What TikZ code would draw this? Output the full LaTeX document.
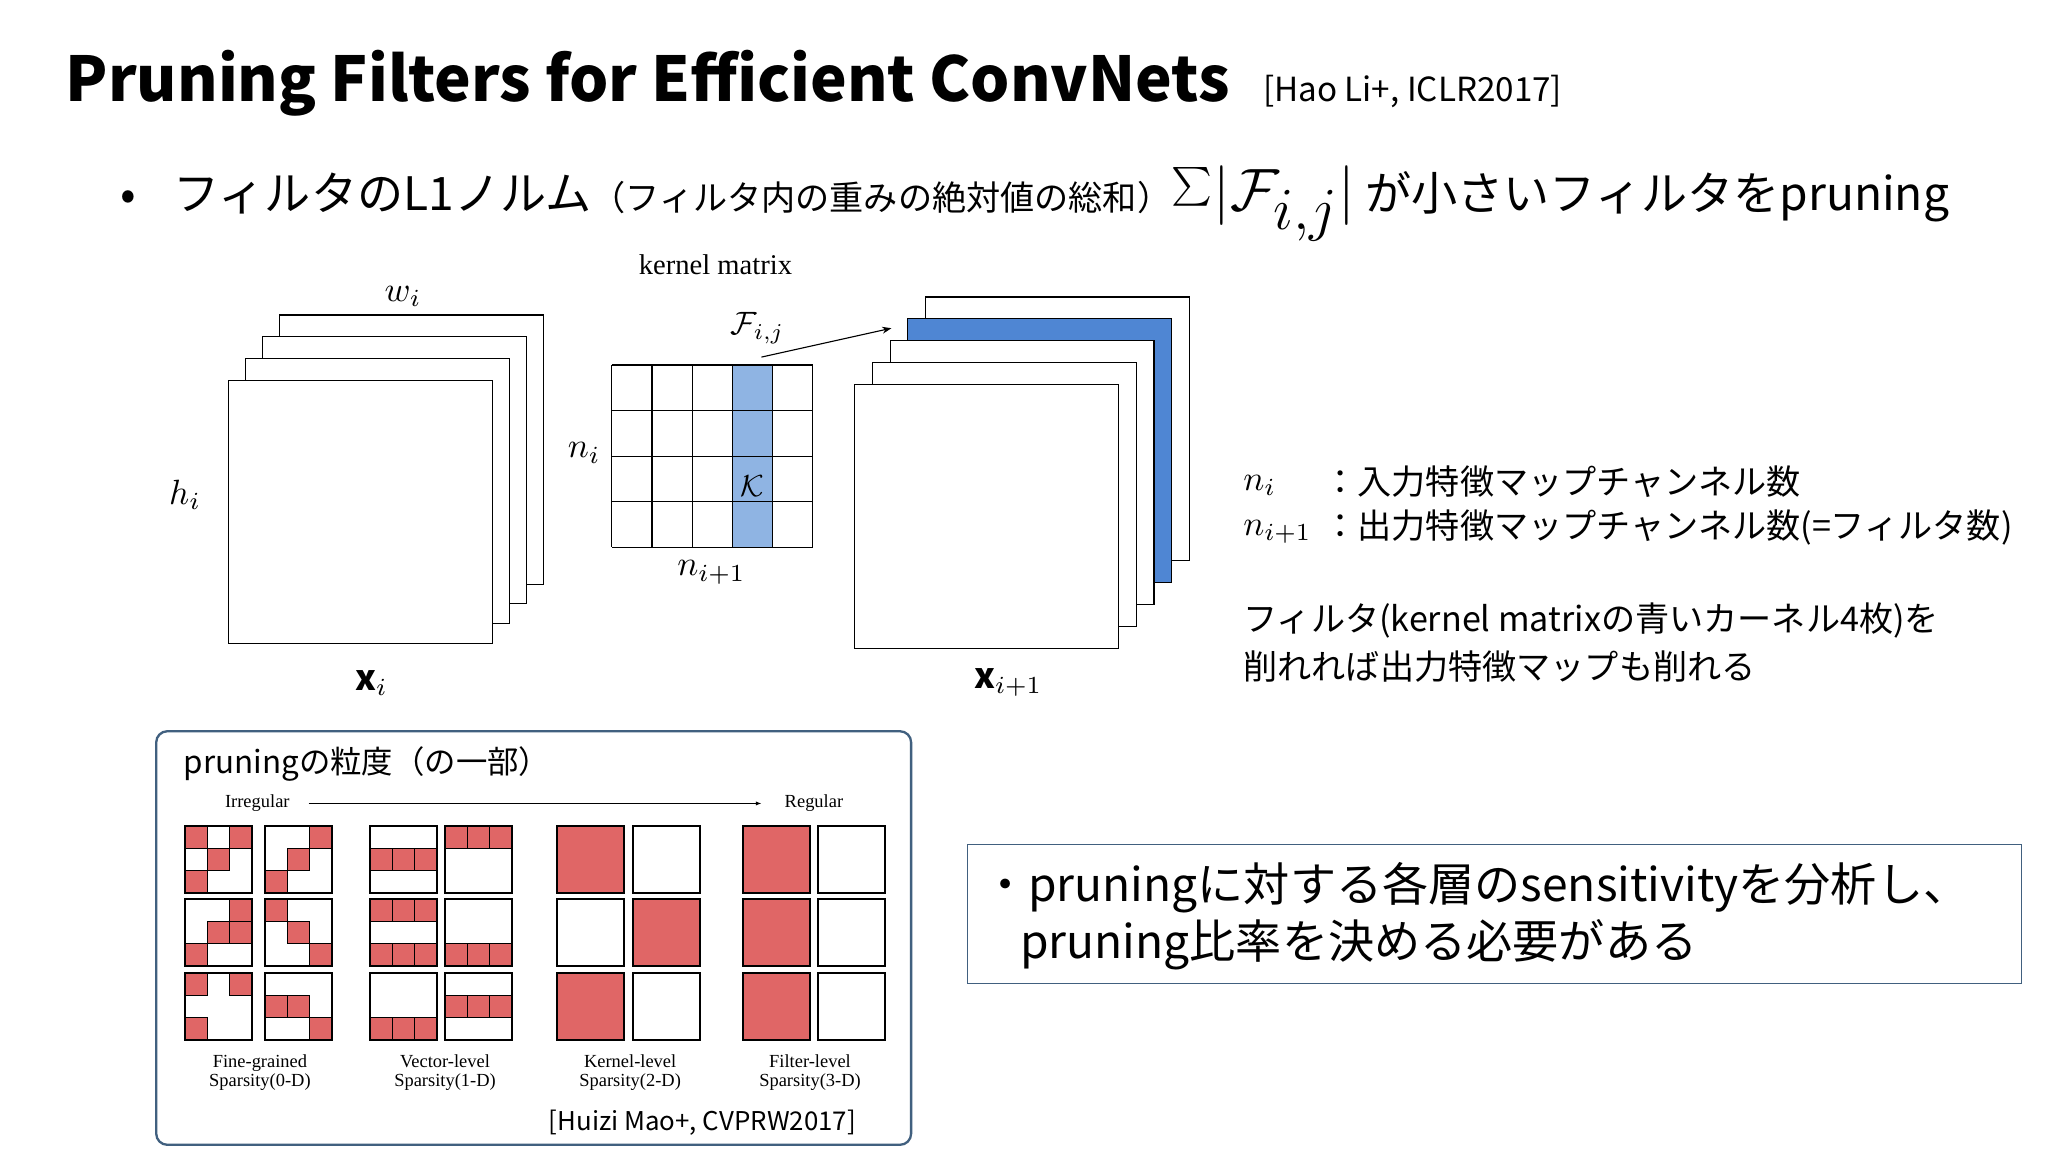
\documentclass[tikz,border=0pt]{standalone}
\usepackage{graphicx}
\usepackage{fontspec}
\setmainfont{Noto Sans CJK JP}
\newfontfamily\tms{Liberation Serif}
\usetikzlibrary{arrows.meta}
\definecolor{red1}{HTML}{E06666}
\definecolor{blu1}{HTML}{4F86D3}
\definecolor{blu2}{HTML}{8FB4E3}
\definecolor{frm}{HTML}{41607F}
\newcommand{\fs}[1]{\fontsize{#1}{#1}\selectfont}
\newcommand{\mth}[2]{\scalebox{#1}{$#2$}}
\begin{document}
\begin{tikzpicture}[x=0.05cm,y=-0.05cm,
  sheet/.style={draw=black,line width=1.2pt,fill=white},
  sq/.style={draw=black,line width=2.2pt},
  cellr/.style={fill=red1,draw=black,line width=1pt},
  lbl/.style={inner sep=0pt},
  sm/.style={inner sep=0pt,font=\tms\fs{20}}]
\useasboundingbox[fill=white] (0,0) rectangle (1560,877.5);
% title
\node[lbl,anchor=base west] (title) at (50,77) {\fs{67}\bfseries Pruning Filters for Efficient ConvNets};
\node[lbl,anchor=base west] (ref1) at (962,77) {\fs{36}[Hao Li+, ICLR2017]};
\node[lbl,anchor=base west] (bul) at (92,160) {\fs{50}•\hspace{0.8em}フィルタのL1ノルム\fs{37}（フィルタ内の重みの絶対値の総和）\raisebox{-1pt}{\scalebox{4.2}{$\sum$}}\hspace{2pt}\raisebox{-1pt}{\mth{2.6}{\Bigl|\mathcal{F}_{i,j}\Bigr|}}\fs{50} が小さいフィルタをpruning};
% left stack
\foreach \k in {3,2,1,0}{
  \draw[sheet] (174+13*\k,290-16.7*\k) rectangle (375+13*\k,490-15*\k);}
\node[lbl] (wi) at (307,226) {\mth{3.8}{w_i}};
\node[lbl] (hi) at (141,377) {\mth{3.8}{h_i}};
\node[lbl] (xi) at (283,520) {\mth{3.8}{\mathbf{x}_i}};
% right stack
\foreach \k in {4,3,2,1,0}{
  \ifnum\k=3 \def\fc{blu1}\else\def\fc{white}\fi
  \draw[sheet,fill=\fc] (651+13.5*\k,293-16.7*\k) rectangle (852+13.5*\k,494-16.7*\k);}
\node[lbl] (xo) at (768,520) {\mth{3.8}{\mathbf{x}_{i+1}}};
% kernel matrix
\fill[blu2] (558,278) rectangle (588.6,417);
\foreach \i in {0,...,5}{\draw[line width=1.2pt] (466+30.6*\i,278) -- (466+30.6*\i,417);}
\foreach \j in {0,...,4}{\draw[line width=1.2pt] (466,278+34.75*\j) -- (619,278+34.75*\j);}
\node[lbl] (km) at (545,202) {\tms\fs{31}kernel matrix};
\node[lbl] (Kk) at (573,370) {\mth{3.3}{\mathcal{K}}};
\node[lbl] (Fij) at (577,250) {\mth{3.5}{\mathcal{F}_{i,j}}};
\node[lbl] (ni) at (445,345) {\mth{3.8}{n_i}};
\node[lbl] (ni1) at (542,436) {\mth{3.8}{n_{i+1}}};
\coordinate (a1) at (580,272); \coordinate (a2) at (679,250);
\draw[line width=1.2pt,-{Stealth[length=10pt]}] (a1) -- (a2);
% right explanation
\node[lbl,anchor=west] (r1a) at (947,370) {\mth{3.8}{n_i}};
\node[lbl,anchor=west] (r1b) at (1008,367) {\fs{37}：入力特徴マップチャンネル数};
\node[lbl,anchor=west] (r2a) at (947,405) {\mth{3.8}{n_{i+1}}};
\node[lbl,anchor=west] (r2b) at (1008,402) {\fs{37}：出力特徴マップチャンネル数(=フィルタ数)};
\node[lbl,anchor=west] (r3) at (947,473) {\fs{37}フィルタ(kernel matrixの青いカーネル4枚)を};
\node[lbl,anchor=west] (r4) at (947,508) {\fs{37}削れれば出力特徴マップも削れる};
% panel
\draw[frm,line width=2.5pt,rounded corners=12pt] (119,557) rectangle (694,872);
\node[lbl,anchor=west] (pt) at (140,582) {\fs{34}pruningの粒度（の一部）};
\node[sm] (irr) at (196,612) {Irregular};
\node[sm] (reg) at (620,612) {Regular};
\draw[line width=1pt,-{Latex[length=6pt]}] (235,612) -- (580,612);
\newcommand{\sqc}[3]{%
  \fill[white] (#1,#2) rectangle ++(51,51);
  \foreach \r/\c in {#3}{\draw[cellr] (#1+17*\c,#2+17*\r) rectangle ++(17,17);}
  \draw[sq] (#1,#2) rectangle ++(51,51);}
\newcommand{\sqf}[2]{\draw[sq,fill=red1] (#1,#2) rectangle ++(51,51);}
\newcommand{\sqe}[2]{\draw[sq] (#1,#2) rectangle ++(51,51);}
% group 1
\sqc{141}{629}{0/0,0/2,1/1,2/0}
\sqc{202}{629}{0/2,1/1,2/0}
\sqc{141}{685}{0/2,1/1,1/2,2/0}
\sqc{202}{685}{0/0,1/1,2/2}
\sqc{141}{741}{0/0,0/2,2/0}
\sqc{202}{741}{1/0,1/1,2/2}
% group 2
\sqc{282}{629}{1/0,1/1,1/2}
\sqc{339}{629}{0/0,0/1,0/2}
\sqc{282}{685}{0/0,0/1,0/2,2/0,2/1,2/2}
\sqc{339}{685}{2/0,2/1,2/2}
\sqc{282}{741}{2/0,2/1,2/2}
\sqc{339}{741}{1/0,1/1,1/2}
% group 3
\sqf{424}{629}\sqe{482}{629}
\sqe{424}{685}\sqf{482}{685}
\sqf{424}{741}\sqe{482}{741}
% group 4
\sqf{566}{629}\sqe{623}{629}
\sqf{566}{685}\sqe{623}{685}
\sqf{566}{741}\sqe{623}{741}
\node[sm,align=center] (c1) at (198,817) {Fine-grained\\Sparsity(0-D)};
\node[sm,align=center] (c2) at (339,817) {Vector-level\\Sparsity(1-D)};
\node[sm,align=center] (c3) at (480,817) {Kernel-level\\Sparsity(2-D)};
\node[sm,align=center] (c4) at (617,817) {Filter-level\\Sparsity(3-D)};
\node[lbl] (ref2) at (535,855) {\fs{28}[Huizi Mao+, CVPRW2017]};
% right box
\draw[frm,line width=1.2pt] (737,643) rectangle (1540,749);
\node[lbl,anchor=west] (b1) at (748,676) {\fs{50}・pruningに対する各層のsensitivityを分析し、};
\node[lbl,anchor=west] (b2) at (777,720) {\fs{50}pruning比率を決める必要がある};
\end{tikzpicture}
\end{document}
